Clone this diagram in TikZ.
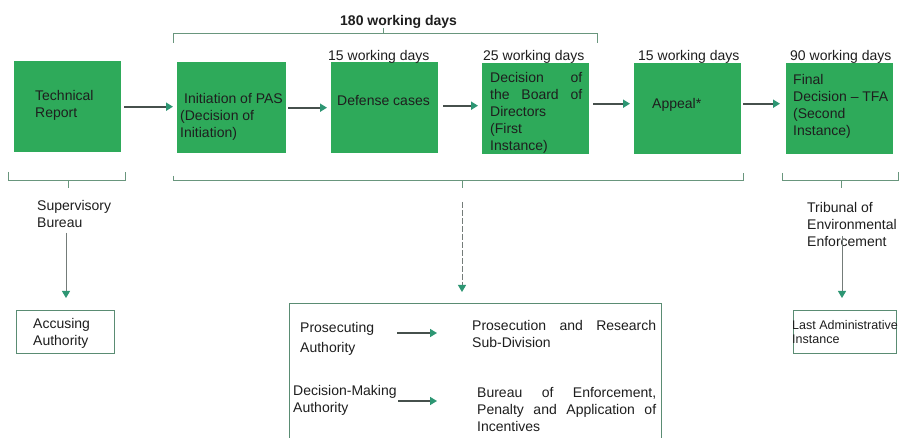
\documentclass[tikz,border=0pt]{standalone}
\usepackage{fontspec}
\setmainfont{Liberation Sans}
\usetikzlibrary{arrows.meta}
\definecolor{boxgreen}{RGB}{46,170,90}
\definecolor{linegray}{RGB}{70,80,76}
\definecolor{headgreen}{RGB}{45,150,115}
\definecolor{brack}{RGB}{105,150,125}
\definecolor{frame}{RGB}{90,140,115}
\definecolor{txt}{RGB}{30,30,30}
\begin{document}
\begin{tikzpicture}[x=1pt,y=-1pt,
  gbox/.style={fill=boxgreen,draw=none,anchor=north west,inner sep=0pt,minimum width=107pt,minimum height=91pt},
  lbl/.style={anchor=north west,inner sep=0pt,align=left,text=txt,font=\fontsize{14}{17}\selectfont},
  harrow/.style={draw=linegray,line width=2pt,-{Triangle[color=headgreen,length=7pt,width=8pt]}},
  varrow/.style={draw=linegray!75,line width=1pt,-{Triangle[color=headgreen,length=7pt,width=8pt]}},
  brk/.style={draw=brack,line width=1pt},
  obox/.style={draw=frame,line width=1pt,anchor=north west,inner sep=0pt}]
\useasboundingbox[fill=white] (0,0) rectangle (902,438);

% green boxes
\node[gbox] (tech) at (14,61) {};
\node[gbox,minimum width=109pt] (init) at (177,62) {};
\node[gbox] (def) at (331,62) {};
\node[gbox] (dec) at (482,63) {};
\node[gbox] (app) at (634,63) {};
\node[gbox] (fin) at (786,63) {};

% texts in boxes
\node[lbl] (techt) at (35,90) {Technical\\Report};
\node[lbl] (initt) at (180,93) {\hspace{4pt}Initiation of PAS\\(Decision of\\Initiation)};
\node[lbl] (deft) at (337,95) {Defense cases};
\node[lbl] (dect) at (490,72) {\makebox[92pt][s]{Decision of}\\\makebox[92pt][s]{the Board of}\\Directors\\(First\\Instance)};
\node[lbl] (appt) at (652,98) {Appeal*};
\node[lbl] (fint) at (793,74) {Final\\Decision -- TFA\\(Second\\Instance)};

% durations
\node[lbl,font=\bfseries\fontsize{14}{17}\selectfont] (d180) at (340,15) {180 working days};
\node[lbl] (d15a) at (328,50) {15 working days};
\node[lbl] (d25) at (483,50) {25 working days};
\node[lbl] (d15b) at (638,50) {15 working days};
\node[lbl] (d90) at (790,50) {90 working days};

% main arrows
\draw[harrow,shorten <=3pt,shorten >=4pt] (tech.east) -- (tech.east -| init.west);
\draw[harrow,shorten <=2pt,shorten >=4pt] (init.east) -- (def.west);
\draw[harrow,shorten <=5pt,shorten >=4pt] ([yshift=2pt]def.east) -- ([yshift=3pt]dec.west);
\draw[harrow,shorten <=4pt,shorten >=4pt] ([yshift=5pt]dec.east) -- ([yshift=5pt]app.west);
\draw[harrow,shorten <=2pt,shorten >=6pt] ([yshift=5pt]app.east) -- ([yshift=5pt]fin.west);

% brackets
\draw[brk] (173,43) -- (173,34) -- (597,34) -- (597,43);
\draw[brk] (383,34) -- (383,28);
\draw[brk] (8,172) -- (8,181) -- (125,181) -- (125,172);
\draw[brk] (68,181) -- (68,188);
\draw[brk] (173,176) -- (173,181) -- (743,181) -- (743,173);
\draw[brk] (462,181) -- (462,188);
\draw[brk] (782,173) -- (782,181) -- (898,181) -- (898,172);
\draw[brk] (841,181) -- (841,188);

% lower texts
\node[lbl] (sup) at (37,200) {Supervisory\\Bureau};
\node[lbl] (trib) at (807,202) {Tribunal of\\Environmental\\Enforcement};

% lower boxes
\node[obox,minimum width=98pt,minimum height=43pt] (acc) at (16,310) {};
\node[lbl] (acct) at (33,318) {Accusing\\Authority};
\node[obox,minimum width=103pt,minimum height=43pt] (last) at (793,310) {};
\node[lbl,font=\fontsize{12.5}{14.5}\selectfont] (lastt) at (792,320) {Last Administrative\\Instance};
\node[obox,minimum width=372pt,minimum height=150pt] (big) at (289,303) {};

\node[lbl] (pros) at (300,322) {Prosecuting\\[3pt]Authority};
\node[lbl] (dma) at (293,385) {Decision-Making\\Authority};
\node[lbl] (psd) at (472,320) {\makebox[184pt][s]{Prosecution and Research}\\Sub-Division};
\node[lbl] (bur) at (477,387) {\makebox[179pt][s]{Bureau of Enforcement,}\\\makebox[179pt][s]{Penalty and Application of}\\Incentives};

% vertical arrows
\coordinate (v1s) at (66,233);
\coordinate (v2s) at (462,202);
\coordinate (v3s) at (842,236);
\draw[varrow,shorten >=12pt] (v1s) -- (v1s |- acc.north);
\draw[varrow,dash pattern=on 6pt off 2pt,shorten >=11pt] (v2s) -- (v2s |- big.north);
\draw[varrow,shorten >=12pt] (v3s) -- (v3s |- last.north);

% arrows inside big box
\coordinate (h1s) at (397,333);
\coordinate (h1e) at (437,333);
\coordinate (h2s) at (398,401);
\coordinate (h2e) at (437,401);
\draw[harrow,line width=1.5pt] (h1s) -- (h1e);
\draw[harrow,line width=1.5pt] (h2s) -- (h2e);
\end{tikzpicture}
\end{document}
